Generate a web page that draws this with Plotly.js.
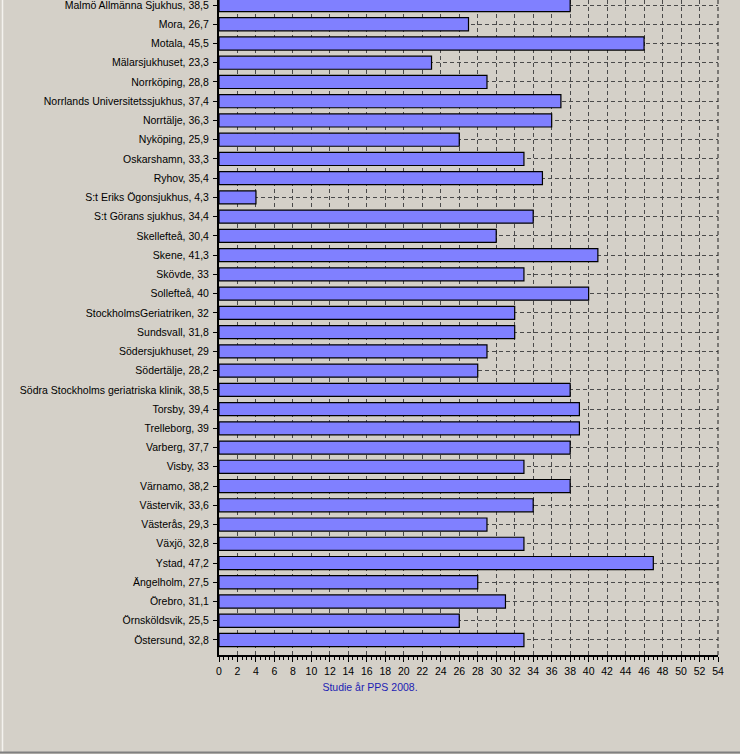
<!DOCTYPE html>
<html>
<head>
<meta charset="utf-8">
<script src="https://cdn.plot.ly/plotly-3.0.1.min.js"></script>
<style>
  html, body { margin: 0; padding: 0; background: #d4d0c8; }
  #chart { width: 740px; height: 754px; }
</style>
</head>
<body>
<div id="chart"></div>
<script>
const hospitals = [
  "Malmö Allmänna Sjukhus", "Mora", "Motala", "Mälarsjukhuset", "Norrköping",
  "Norrlands Universitetssjukhus", "Norrtälje", "Nyköping", "Oskarshamn", "Ryhov",
  "S:t Eriks Ögonsjukhus", "S:t Görans sjukhus", "Skellefteå", "Skene", "Skövde",
  "Sollefteå", "StockholmsGeriatriken", "Sundsvall", "Södersjukhuset", "Södertälje",
  "Södra Stockholms geriatriska klinik", "Torsby", "Trelleborg", "Varberg", "Visby",
  "Värnamo", "Västervik", "Västerås", "Växjö", "Ystad",
  "Ängelholm", "Örebro", "Örnsköldsvik", "Östersund"
];
const labelValues = [
  38.5, 26.7, 45.5, 23.3, 28.8,
  37.4, 36.3, 25.9, 33.3, 35.4,
  4.3, 34.4, 30.4, 41.3, 33,
  40, 32, 31.8, 29, 28.2,
  38.5, 39.4, 39, 37.7, 33,
  38.2, 33.6, 29.3, 32.8, 47.2,
  27.5, 31.1, 25.5, 32.8
];
// bar lengths as drawn in the picture
const barValues = [
  38, 27, 46, 23, 29,
  37, 36, 26, 33, 35,
  4, 34, 30, 41, 33,
  40, 32, 32, 29, 28,
  38, 39, 39, 38, 33,
  38, 34, 29, 33, 47,
  28, 31, 26, 33
];
const xTickValues = [0,2,4,6,8,10,12,14,16,18,20,22,24,26,28,30,32,34,36,38,40,42,44,46,48,50,52,54];
const chartTitle = "Studie år PPS 2008.";

const tickLabels = hospitals.map((h, i) => h + ", " + String(labelValues[i]).replace(".", ","));

const W = 740, H = 754;
const L = 219, R = 22, T = 0, B = 99;
const pw = W - L - R, ph = H - T - B;
function px2x(px) { return (px - L) / pw; }
function py2y(py) { return 1 - (py - T) / ph; }

const trace = {
  type: "bar",
  orientation: "h",
  y: hospitals,
  x: barValues,
  width: 0.68,
  marker: { color: "#8080ff", line: { color: "#000000", width: 1.2 } },
  hoverinfo: "skip"
};

const FONT = "Liberation Sans, Arial, sans-serif";

const layout = {
  width: W, height: H,
  margin: { l: L, r: R, t: T, b: B, pad: 0 },
  paper_bgcolor: "#d4d0c8",
  plot_bgcolor: "#d4d0c8",
  showlegend: false,
  font: { family: FONT, size: 10.5, color: "#000000" },
  title: {
    text: chartTitle,
    font: { family: FONT, size: 10.5, color: "#1c1cb4" },
    xref: "container", x: 0.5, xanchor: "center",
    yref: "container", y: 1 - 687 / H, yanchor: "middle"
  },
  xaxis: {
    range: [0, 54],
    autorange: false,
    tickmode: "array",
    tickvals: xTickValues,
    ticktext: xTickValues.map(String),
    ticks: "outside", ticklen: 5, tickwidth: 1, tickcolor: "#000",
    minor: { dtick: 0.5, ticks: "outside", ticklen: 3, tickwidth: 1, tickcolor: "#000", showgrid: false },
    showline: true, linecolor: "#000", linewidth: 2,
    showgrid: true, gridcolor: "#4a4a4a", gridwidth: 1, griddash: "4px,3px",
    zeroline: false,
    tickfont: { family: FONT, size: 10.5, color: "#000" },
    fixedrange: true
  },
  yaxis: {
    type: "category",
    categoryorder: "array",
    categoryarray: hospitals,
    tickmode: "array",
    tickvals: hospitals,
    ticktext: tickLabels,
    range: [33.78, -0.26],
    autorange: false,
    ticks: "outside", ticklen: 4, tickwidth: 1, tickcolor: "#000",
    showline: true, linecolor: "#000", linewidth: 2,
    showgrid: true, gridcolor: "#4a4a4a", gridwidth: 1, griddash: "4px,3px",
    zeroline: false,
    ticklabelstandoff: 2,
    tickfont: { family: FONT, size: 10.5, color: "#000" },
    fixedrange: true
  },
  shapes: [
    { type: "line", xref: "paper", yref: "paper", x0: 1, x1: 1, y0: 0, y1: 1,
      line: { color: "#202020", width: 1, dash: "4px,3px" } },
    { type: "line", xref: "paper", yref: "paper", x0: px2x(2.5), x1: px2x(2.5), y0: py2y(0), y1: py2y(752),
      line: { color: "#f4f2ee", width: 1.5 } },
    { type: "line", xref: "paper", yref: "paper", x0: px2x(0), x1: px2x(740), y0: py2y(752.5), y1: py2y(752.5),
      line: { color: "#808080", width: 2 } }
  ]
};

Plotly.newPlot("chart", [trace], layout, { displayModeBar: false, staticPlot: true });
</script>
</body>
</html>
